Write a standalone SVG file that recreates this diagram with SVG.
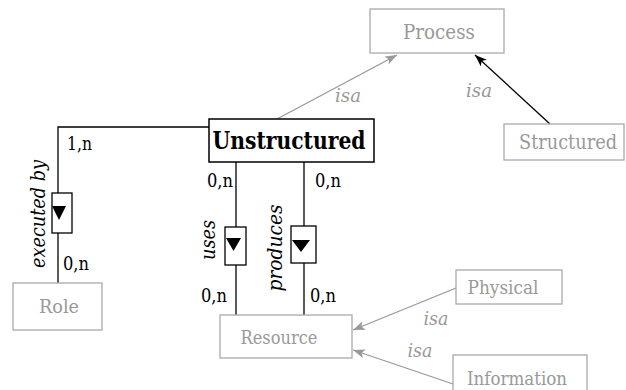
<svg xmlns="http://www.w3.org/2000/svg" width="626" height="390" viewBox="0 0 626 390">
  <defs>
    <style>
      text { font-family: "DejaVu Serif", serif; font-stretch: condensed; }
      .box { fill: #fff; stroke: #aaa; stroke-width: 1.3; }
      .box-main { fill: #fff; stroke: #000; stroke-width: 1.5; }
      .lbl { fill: #999; font-size: 19px; text-anchor: middle; }
      .lbl-big { fill: #999; font-size: 21px; text-anchor: middle; }
      .main { fill: #000; font-size: 23.5px; font-weight: bold; text-anchor: middle; }
      .card { fill: #000; font-size: 18px; }
      .rel { fill: #000; font-size: 21px; font-style: italic; text-anchor: middle; }
      .isa { fill: #999; font-size: 19px; font-style: italic; text-anchor: middle; }
      .line { fill: none; stroke: #000; stroke-width: 1.3; }
      .isa-grey { fill: none; stroke: #999; stroke-width: 1.3; marker-end: url(#head-grey); }
      .isa-black { fill: none; stroke: #000; stroke-width: 1.3; marker-end: url(#head-black); }
      .relbox { fill: #fff; stroke: #000; stroke-width: 1.3; }
      .tri { fill: #000; }
    </style>
    <marker id="head-grey" markerWidth="13" markerHeight="10" refX="12" refY="4.5" orient="auto" markerUnits="userSpaceOnUse">
      <path d="M0,0 L12,4.5 L0,9 L3,4.5 z" fill="#999"/>
    </marker>
    <marker id="head-black" markerWidth="13" markerHeight="10" refX="12" refY="4.5" orient="auto" markerUnits="userSpaceOnUse">
      <path d="M0,0 L12,4.5 L0,9 L3,4.5 z" fill="#000"/>
    </marker>
  </defs>

  <!-- connectors -->
  <g id="connectors">
    <!-- isa links -->
    <line class="isa-grey" x1="277" y1="119" x2="397" y2="55"/>
    <line class="isa-black" x1="550" y1="124" x2="475" y2="55"/>
    <line class="isa-grey" x1="456" y1="288" x2="353" y2="330"/>
    <line class="isa-grey" x1="453" y1="384" x2="353" y2="350"/>
    <text class="isa" x="348" y="102" textLength="26" lengthAdjust="spacingAndGlyphs">isa</text>
    <text class="isa" x="479" y="97" textLength="26" lengthAdjust="spacingAndGlyphs">isa</text>
    <text class="isa" x="436" y="325" textLength="25" lengthAdjust="spacingAndGlyphs">isa</text>
    <text class="isa" x="420" y="357" textLength="25" lengthAdjust="spacingAndGlyphs">isa</text>

    <!-- executed by -->
    <polyline class="line" points="209,127 58,127 58,193"/>
    <line class="line" x1="58" y1="233" x2="58" y2="283"/>
    <rect class="relbox" x="52" y="193" width="20" height="40"/>
    <polygon class="tri" points="52,206 66,206 59,220"/>
    <text class="rel" transform="translate(45,214) rotate(-90)" textLength="108" lengthAdjust="spacingAndGlyphs">executed by</text>
    <text class="card" x="67" y="150" textLength="25" lengthAdjust="spacingAndGlyphs">1,n</text>
    <text class="card" x="63" y="270" textLength="26" lengthAdjust="spacingAndGlyphs">0,n</text>

    <!-- uses -->
    <line class="line" x1="236" y1="162" x2="236" y2="227"/>
    <line class="line" x1="236" y1="265" x2="236" y2="315"/>
    <rect class="relbox" x="225" y="227" width="21" height="38"/>
    <polygon class="tri" points="226,238 241,238 233.5,251"/>
    <text class="rel" transform="translate(215,240) rotate(-90)" textLength="40" lengthAdjust="spacingAndGlyphs">uses</text>
    <text class="card" x="207" y="187" textLength="26" lengthAdjust="spacingAndGlyphs">0,n</text>
    <text class="card" x="201" y="302" textLength="26" lengthAdjust="spacingAndGlyphs">0,n</text>

    <!-- produces -->
    <line class="line" x1="304" y1="162" x2="304" y2="226"/>
    <line class="line" x1="304" y1="263" x2="304" y2="315"/>
    <rect class="relbox" x="291" y="226" width="25" height="37"/>
    <polygon class="tri" points="292,240 310,240 301,252"/>
    <text class="rel" transform="translate(282,248) rotate(-90)" textLength="87" lengthAdjust="spacingAndGlyphs">produces</text>
    <text class="card" x="315" y="187" textLength="26" lengthAdjust="spacingAndGlyphs">0,n</text>
    <text class="card" x="310" y="302" textLength="26" lengthAdjust="spacingAndGlyphs">0,n</text>
  </g>

  <g id="process">
    <rect class="box" x="370" y="9" width="134" height="44"/>
    <text class="lbl-big" x="439" y="39" textLength="72" lengthAdjust="spacingAndGlyphs">Process</text>
  </g>

  <g id="structured">
    <rect class="box" x="504" y="124" width="120" height="36"/>
    <text class="lbl-big" x="568" y="149" textLength="98" lengthAdjust="spacingAndGlyphs">Structured</text>
  </g>

  <g id="unstructured">
    <rect class="box-main" x="209" y="119" width="165" height="43"/>
    <text class="main" x="289" y="149" textLength="153" lengthAdjust="spacingAndGlyphs">Unstructured</text>
  </g>

  <g id="role">
    <rect class="box" x="13" y="283" width="89" height="47"/>
    <text class="lbl" x="59" y="313" textLength="40" lengthAdjust="spacingAndGlyphs">Role</text>
  </g>

  <g id="resource">
    <rect class="box" x="220" y="315" width="132" height="43"/>
    <text class="lbl" x="279" y="344" textLength="77" lengthAdjust="spacingAndGlyphs">Resource</text>
  </g>

  <g id="physical">
    <rect class="box" x="456" y="270" width="106" height="34"/>
    <text class="lbl" x="503" y="294" textLength="71" lengthAdjust="spacingAndGlyphs">Physical</text>
  </g>

  <g id="information">
    <rect class="box" x="453" y="355" width="134" height="46"/>
    <text class="lbl" x="517" y="385" textLength="100" lengthAdjust="spacingAndGlyphs">Information</text>
  </g>
</svg>
